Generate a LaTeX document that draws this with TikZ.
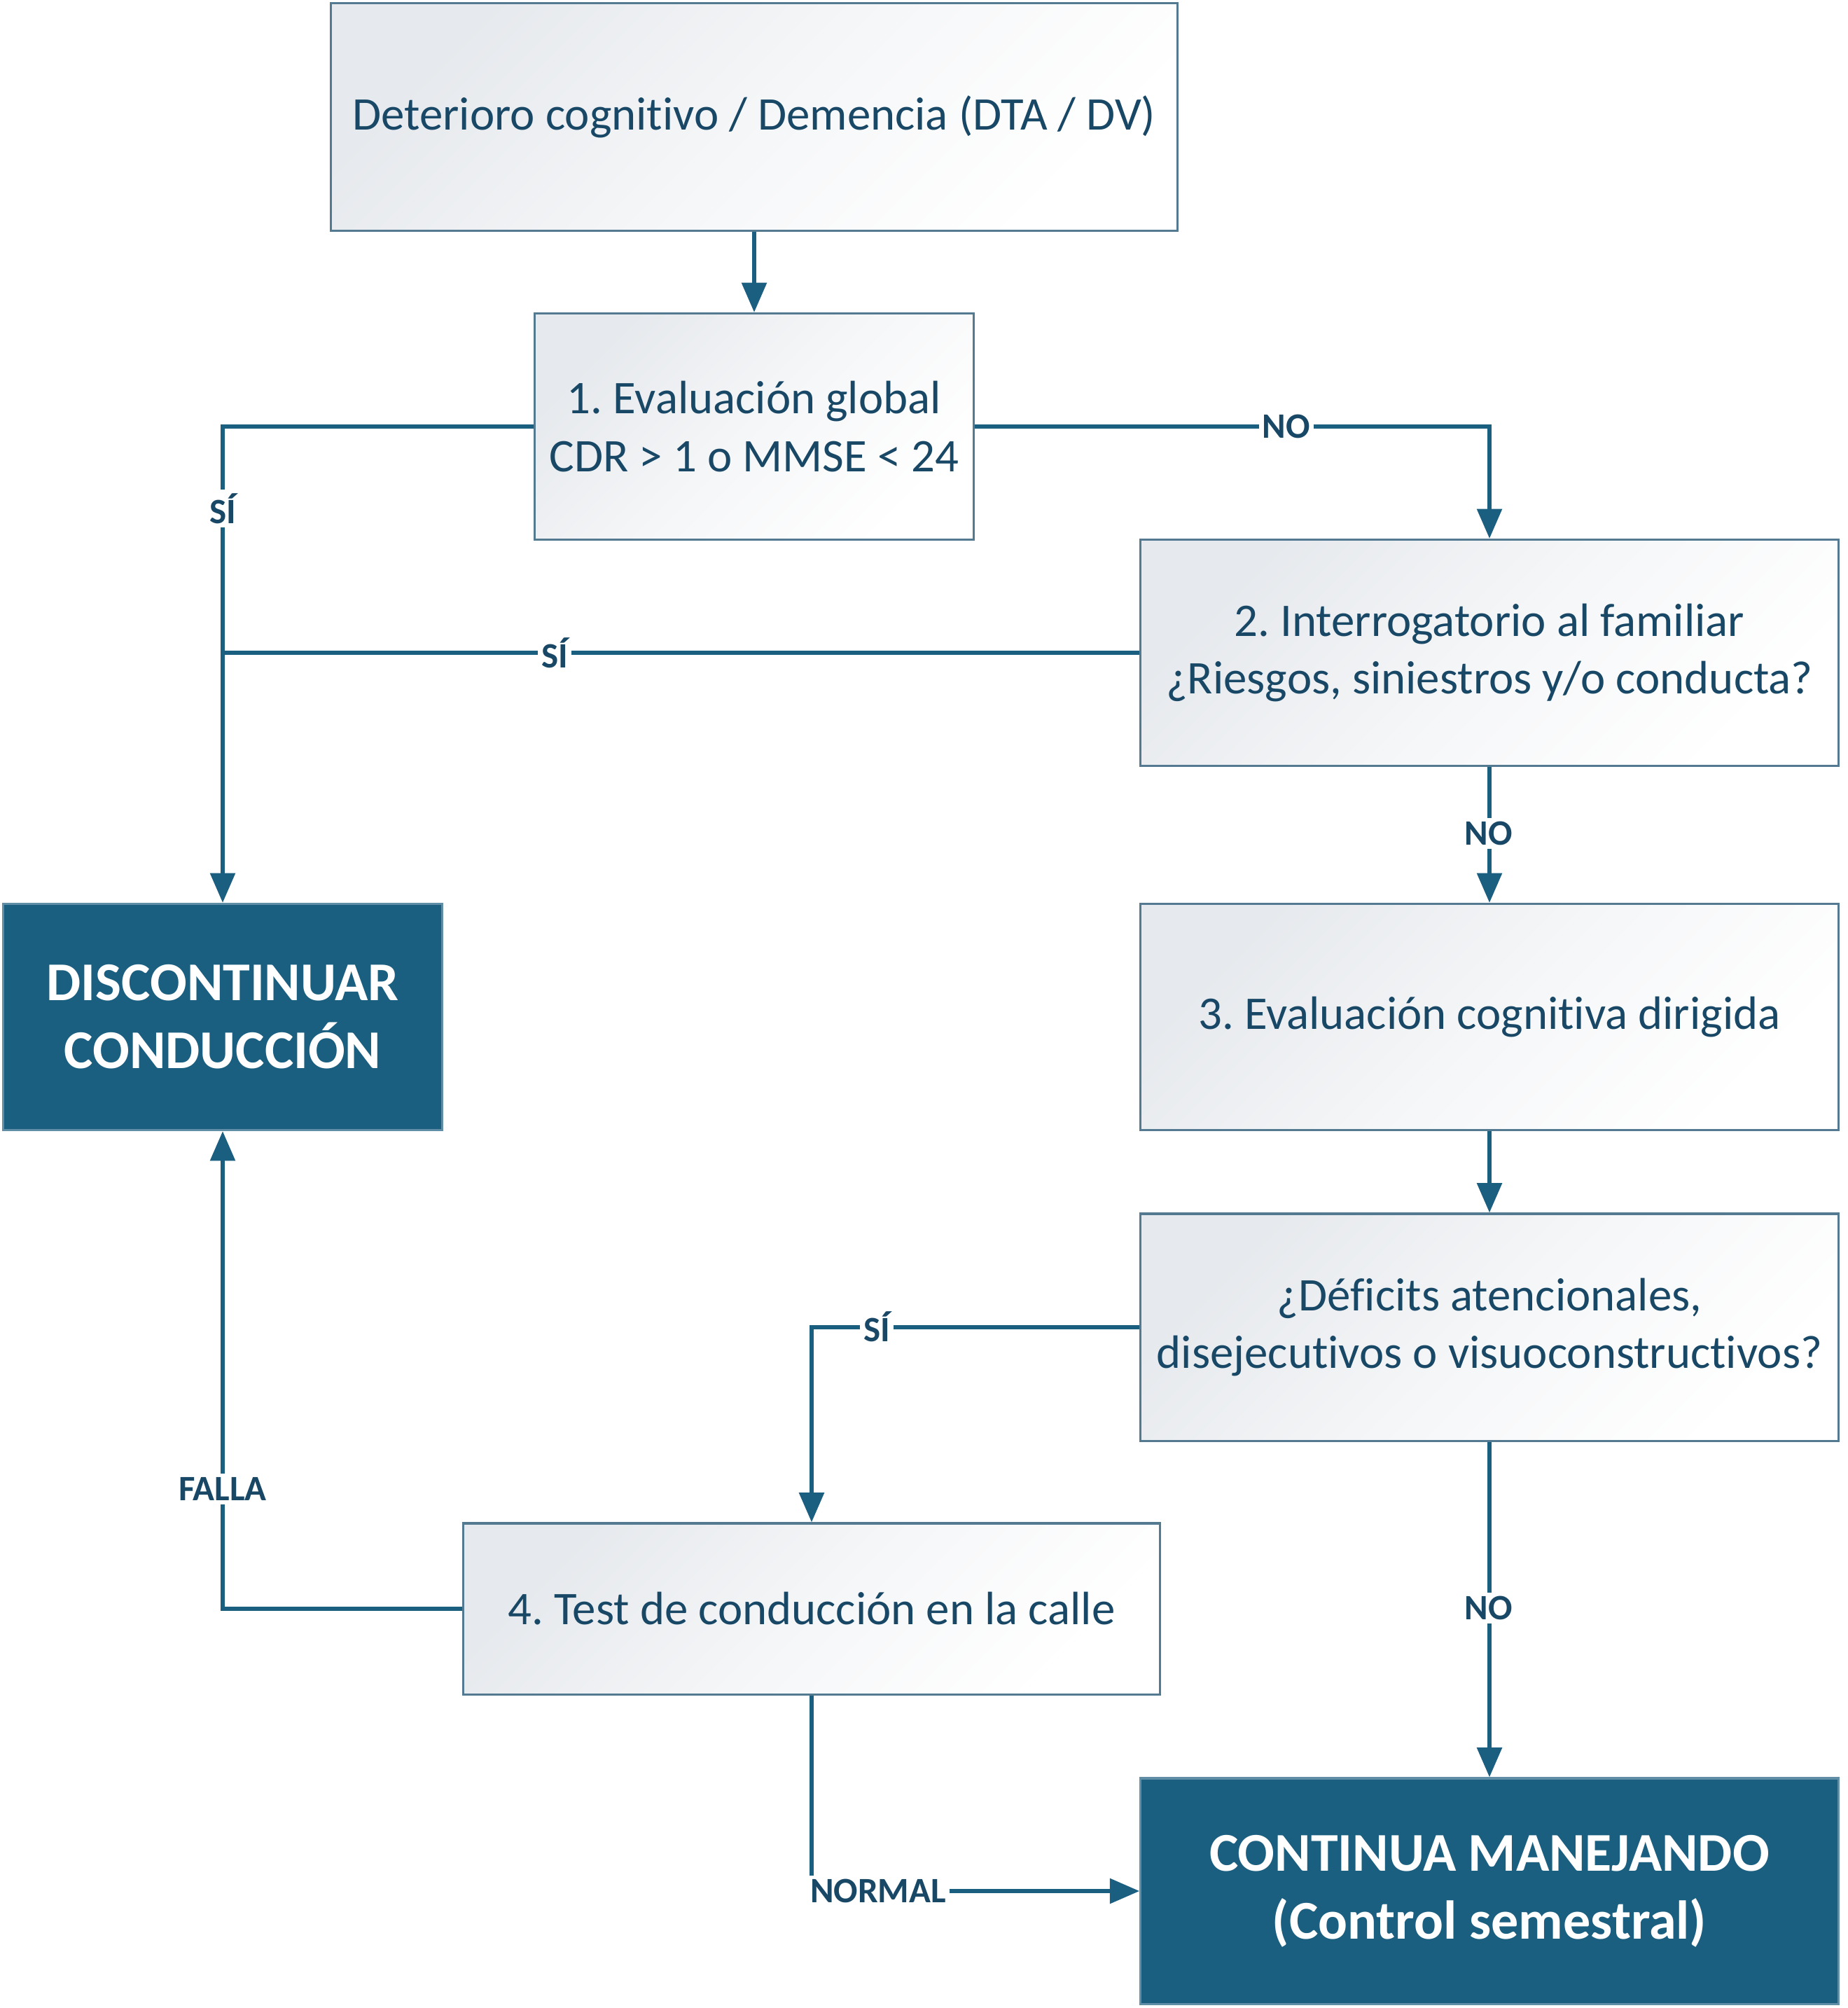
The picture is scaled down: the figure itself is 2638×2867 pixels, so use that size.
\documentclass[tikz,border=0pt]{standalone}
\usepackage{fontspec}
\setmainfont{Carlito}[Ligatures=NoCommon]
\usetikzlibrary{arrows.meta}
\definecolor{dk}{RGB}{26,94,128}
\definecolor{txt}{RGB}{24,72,102}
\definecolor{bd}{RGB}{84,122,146}
\definecolor{shd}{RGB}{230,233,237}
\frenchspacing
\begin{document}
\begin{tikzpicture}[x=0.01cm,y=-0.01cm,
  lbox/.style={draw=bd, line width=0.9pt, top color=shd, bottom color=white, middle color=white!60!shd, shading angle=45,
    align=center, text=txt, font=\fontsize{19}{23.5}\selectfont, inner sep=0pt},
  dbox/.style={fill=dk, draw=dk!70!white, line width=0.9pt, align=center, text=white,
    font=\bfseries\fontsize{22.2}{27.5}\selectfont, inner sep=0pt},
  line/.style={draw=dk, line width=1.5pt},
  conn/.style={line, -{Triangle[width=10pt,length=12pt]}},
  lab/.style={fill=white, text=txt, font=\bfseries\fontsize{14.5}{17}\selectfont, inner sep=1.5pt}]
\useasboundingbox (0,0) rectangle (2638,2867);
\node[lbox, minimum width=12.09cm, minimum height=3.24cm] (b0) at (1077,167) {Deterioro cognitivo / Demencia (DTA / DV)};
\node[lbox, minimum width=6.27cm, minimum height=3.23cm] (b1) at (1077,609) {1. Evaluación global\\CDR > 1 o MMSE < 24};
\node[lbox, minimum width=9.96cm, minimum height=3.23cm] (b2) at (2127,932) {2. Interrogatorio al familiar\\¿Riesgos, siniestros y/o conducta?};
\node[lbox, minimum width=9.96cm, minimum height=3.23cm] (b3) at (2127,1452) {3. Evaluación cognitiva dirigida};
\node[lbox, minimum width=9.96cm, minimum height=3.24cm] (b4) at (2127,1895) {¿Déficits atencionales,\\disejecutivos o visuoconstructivos?};
\node[lbox, minimum width=9.94cm, minimum height=2.44cm] (b5) at (1159,2297) {4. Test de conducción en la calle};
\node[dbox, minimum width=6.26cm, minimum height=3.23cm] (disc) at (318,1452) {DISCONTINUAR\\CONDUCCIÓN};
\node[dbox, minimum width=9.96cm, minimum height=3.22cm] (cont) at (2127,2700) {CONTINUA MANEJANDO\\(Control semestral)};

\draw[conn] (b0) -- (b1);
\draw[conn] (b1.west) -| (disc.north);
\draw[conn] (b1.east) -| (b2.north);
\draw[line] (b2.west) -- (b2.west -| disc.north);
\draw[conn] (b2) -- (b3);
\draw[conn] (b3) -- (b4);
\draw[conn] (b4.west) -| (b5.north);
\draw[conn] (b4) -- (cont);
\draw[conn] (b5.west) -| (disc.south);
\draw[conn] (b5.south) |- (cont.west);

\node[lab] (l1) at (318,726) {SÍ};
\node[lab] (l2) at (1837,609) {NO};
\node[lab] (l3) at (792,932) {SÍ};
\node[lab] (l4) at (2126,1190) {NO};
\node[lab] (l5) at (1252,1894) {SÍ};
\node[lab] (l6) at (2126,2296) {NO};
\node[lab] (l7) at (318,2126) {FALLA};
\node[lab] (l8) at (1254,2700) {NORMAL};
\end{tikzpicture}
\end{document}
